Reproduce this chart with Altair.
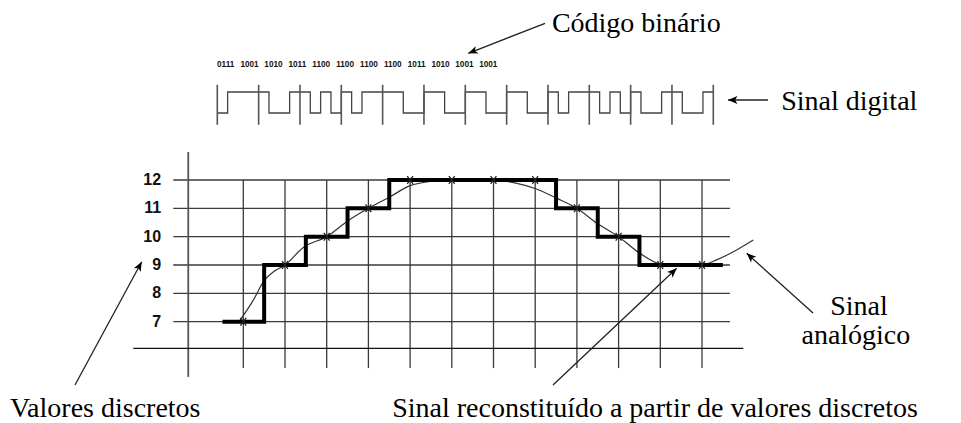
import math
import altair as alt
import pandas as pd

# ---------------- data ----------------
levels = [7, 9, 10, 11, 12, 12, 12, 12, 11, 10, 9, 9]          # quantised sample values
codes = ["0111", "1001", "1010", "1011", "1100", "1100",
         "1100", "1100", "1011", "1010", "1001", "1001"]        # binary code of each sample
tick_levels = [7, 8, 9, 10, 11, 12]
# analogue signal (sample-index units, level units)
analog_x = [-0.1, 0.24, 0.5, 0.74, 1.0, 1.44, 2.0, 2.48, 3.0, 3.52, 4.0, 4.48, 5.0,
            6.0, 6.56, 7.0, 7.52, 8.0, 8.48, 9.0, 9.51, 10.0, 10.55, 11.0, 11.35, 11.83, 12.23]
analog_v = [7.0, 7.76, 8.45, 8.78, 9.0, 9.62, 10.0, 10.53, 11.0, 11.41, 11.8, 11.95, 12.0,
            12.0, 11.88, 11.7, 11.35, 11.0, 10.47, 10.0, 9.41, 9.03, 8.96, 9.0, 9.18, 9.53, 9.88]

# ---------------- layout ----------------
W, H = 945, 415
PXX, PXV = 41.7, 28.33             # pixels per sample step / per level
xmin = -(243.3 - 8) / PXX
xmax = xmin + W / PXX
ymax = 12 + (180 - 8) / PXV
ymin = ymax - H / PXV
XS = alt.Scale(domain=[xmin, xmax], nice=False, zero=False)
YS = alt.Scale(domain=[ymin, ymax], nice=False, zero=False)


def X(f="x"):
    return alt.X(f, type="quantitative", scale=XS, axis=None)


def Y(f="y"):
    return alt.Y(f, type="quantitative", scale=YS, axis=None)


GRID = "#3a3a3a"
n = len(levels)

# grid
hgrid = alt.Chart(pd.DataFrame({"y": tick_levels, "x": -1.68, "x2": 11.67})).mark_rule(
    color=GRID, strokeWidth=1.3).encode(x=X(), x2="x2", y=Y())
vgrid = alt.Chart(pd.DataFrame({"x": list(range(n)), "y": 12, "y2": 5.36})).mark_rule(
    color=GRID, strokeWidth=1.3).encode(x=X(), y=Y(), y2="y2")
yaxis = alt.Chart(pd.DataFrame({"x": [-1.32], "y": [12.99], "y2": [5.05]})).mark_rule(
    color="#555", strokeWidth=1.8).encode(x=X(), y=Y(), y2="y2")
xaxis = alt.Chart(pd.DataFrame({"x": [-2.64], "x2": [11.99], "y": [6.06]})).mark_rule(
    color="#111", strokeWidth=1.3).encode(x=X(), x2="x2", y=Y())
ticks = alt.Chart(pd.DataFrame({"y": tick_levels, "x": -1.97, "t": [str(v) for v in tick_levels]})).mark_text(
    align="right", baseline="middle", font="Liberation Sans", fontWeight="bold", fontSize=16,
    color="#111").encode(x=X(), y=Y(), text="t:N")

# analogue curve
analog = alt.Chart(pd.DataFrame({"x": analog_x, "y": analog_v})).mark_line(
    color="#333", strokeWidth=1.2, interpolate="monotone").encode(x=X(), y=Y(), order="x:Q")

# reconstructed staircase
sx = [-0.5] + list(range(n)) + [n - 0.5]
sv = [levels[0]] + levels + [levels[-1]]
stairs = alt.Chart(pd.DataFrame({"x": sx, "y": sv, "o": list(range(len(sx)))})).mark_line(
    color="#000", strokeWidth=4, interpolate="step", strokeJoin="miter", strokeCap="butt").encode(
    x=X(), y=Y(), order="o:Q")

# sample markers
marks = alt.Chart(pd.DataFrame({"x": list(range(n)), "y": levels})).mark_point(
    shape="M-0.75,-1L0.75,1M-0.75,1L0.75,-1", size=60, filled=False, color="#222",
    strokeWidth=1.3, opacity=1).encode(x=X(), y=Y())

# digital signal built from the codes
x0, w = -0.6235, 0.9912
HI, LO = 15.106, 14.365
dx, dv = [], []
for i, c in enumerate(codes):
    for j, b in enumerate(c):
        dx.append(x0 + (4 * i + j) * w / 4)
        dv.append(HI if b == "1" else LO)
dx.append(x0 + n * w)
dv.append(dv[-1])
digital = alt.Chart(pd.DataFrame({"x": dx, "y": dv, "o": list(range(len(dx)))})).mark_line(
    color="#444", strokeWidth=1.3, interpolate="step-after").encode(x=X(), y=Y(), order="o:Q")
bars = alt.Chart(pd.DataFrame({"x": [x0 + k * w for k in range(n + 1)], "y": 15.36, "y2": 13.95})).mark_rule(
    color="#555", strokeWidth=1.6).encode(x=X(), y=Y(), y2="y2")
codetext = alt.Chart(pd.DataFrame({"x": [-0.422 + 0.5724 * i for i in range(n)], "y": 16.05, "t": codes})).mark_text(
    align="center", baseline="middle", font="Liberation Sans", fontWeight="bold", fontSize=8.2,
    color="#111").encode(x=X(), y=Y(), text="t:N")

# annotations
SERIF = "'Liberation Serif', 'Times New Roman', Times, serif"
ltxt = pd.DataFrame({
    "t": ["Código binário", "Sinal digital", "Valores discretos"],
    "x": [7.40, 12.90, -5.595],
    "y": [17.235, 14.471, 3.645]})
ltext = alt.Chart(ltxt).mark_text(align="left", baseline="alphabetic", font=SERIF, fontSize=28,
                                  color="#000").encode(x=X(), y=Y(), text="t:N")
ctxt = pd.DataFrame({
    "t": ["Sinal reconstituído a partir de valores discretos", "Sinal", "analógico"],
    "x": [9.873, 14.765, 14.69],
    "y": [3.645, 7.235, 6.22]})
ctext = alt.Chart(ctxt).mark_text(align="center", baseline="alphabetic", font=SERIF, fontSize=28,
                                  color="#000").encode(x=X(), y=Y(), text="t:N")

arrows = pd.DataFrame({
    "x": [7.235, 12.583, -4.036, 7.427, 13.662],
    "y": [17.531, 14.824, 4.764, 4.764, 7.305],
    "x2": [5.396, 11.624, -2.436, 10.393, 12.072],
    "y2": [16.472, 14.824, 9.116, 8.883, 9.413]})
arrows["ang"] = [
    math.degrees(math.atan2((r.x2 - r.x) * PXX, (r.y2 - r.y) * PXV)) % 360 for r in arrows.itertuples()]
alines = alt.Chart(arrows).mark_rule(color="#222", strokeWidth=1.3).encode(
    x=X(), y=Y(), x2="x2", y2="y2")
aheads = alt.Chart(arrows).mark_point(
    shape="M0,0L0.75,1.8L0,1.35L-0.75,1.8Z", size=110, filled=True, color="#000", opacity=1).encode(
    x=X("x2"), y=Y("y2"), angle=alt.Angle("ang:Q", scale=None))

chart = alt.layer(hgrid, vgrid, yaxis, xaxis, ticks, analog, stairs, marks, digital, bars, codetext,
                  alines, aheads, ltext, ctext).properties(
    width=W, height=H, padding=0, autosize=alt.AutoSizeParams(type="none"),
    background="white").configure_view(stroke=None)

chart.save("out.html", embed_options={"renderer": "svg", "actions": False})
